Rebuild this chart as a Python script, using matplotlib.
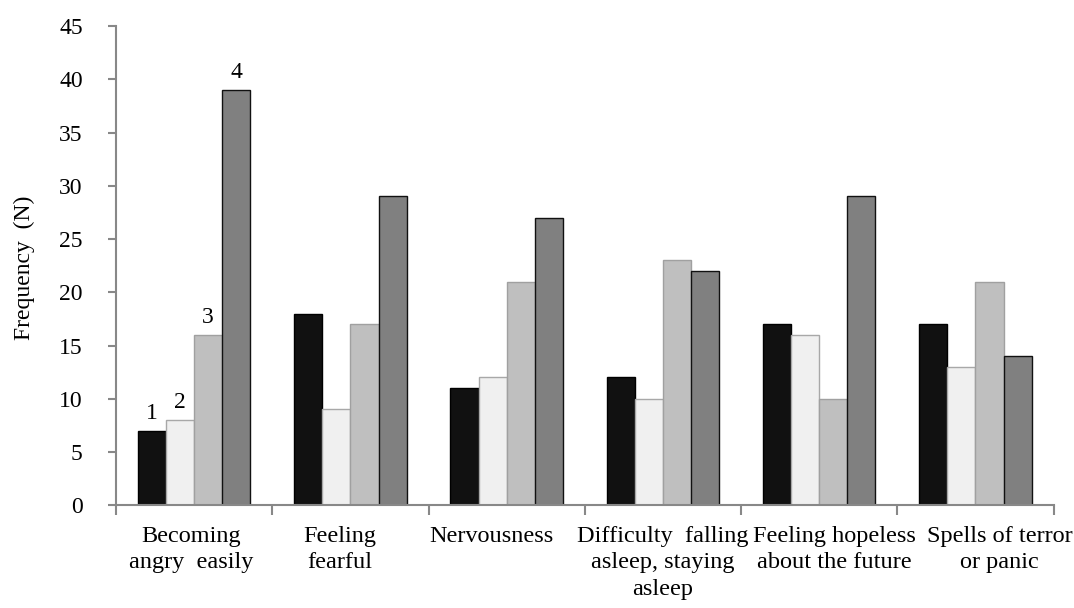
import numpy as np
import matplotlib.pyplot as plt

plt.rcParams['font.family'] = ['Liberation Serif', 'DejaVu Serif']

# Datos
categories = ['Becoming\nangry  easily', 'Feeling\nfearful', 'Nervousness',
              'Difficulty  falling\nasleep, staying\nasleep',
              'Feeling hopeless\nabout the future', 'Spells of terror\nor panic']
level_labels = ['1', '2', '3', '4']
level1 = [7, 18, 11, 12, 17, 17]
level2 = [8, 9, 12, 10, 16, 13]
level3 = [16, 17, 21, 23, 10, 21]
level4 = [39, 29, 27, 22, 29, 14]
yticks = [0, 5, 10, 15, 20, 25, 30, 35, 40, 45]

series = [level1, level2, level3, level4]
fills = ['#111111', '#f0f0f0', '#bfbfbf', '#808080']
edges = ['#000000', '#a8a8a8', '#a0a0a0', '#111111']
# desplazamiento horizontal de cada etiqueta (como en el original)
label_shift = [-0.02, -0.065, -0.095, 0.0, 0.095, 0.155]

fig = plt.figure(figsize=(10.74, 6.08), dpi=100)
ax = fig.add_axes([0.108, 0.169, 0.873, 0.788])

x = np.arange(len(categories))
w = 0.18
for i, (vals, fc, ec) in enumerate(zip(series, fills, edges)):
    bars = ax.bar(x + (i - 1.5) * w, vals, width=w, color=fc, edgecolor=ec, linewidth=1.0)
    # etiqueta del nivel sobre la primera categoría
    b = bars[0]
    ax.annotate(level_labels[i], xy=(b.get_x() + b.get_width() / 2, b.get_height()),
                xytext=(0, 5), textcoords='offset points', ha='center', va='bottom',
                fontsize=17)

ax.set_xlim(-0.5, len(categories) - 0.5)
ax.set_ylim(0, 45)
ax.set_yticks(yticks)
ax.set_xticks(np.arange(-0.5, len(categories)))
ax.set_xticklabels([])
ax.tick_params(axis='x', length=7, width=1.5, color='#888888')
ax.tick_params(axis='y', length=6, width=1.5, color='#888888', pad=18, labelsize=17)

for xi, lab, dx in zip(x, categories, label_shift):
    ax.text(xi + dx, -0.043, lab, transform=ax.get_xaxis_transform(),
            ha='center', va='top', fontsize=17.5, linespacing=1.35,
            multialignment='center')

for s in ['top', 'right']:
    ax.spines[s].set_visible(False)
for s in ['left', 'bottom']:
    ax.spines[s].set_color('#888888')
    ax.spines[s].set_linewidth(1.5)

ax.set_ylabel('Frequency  (N)', fontsize=17)
ax.yaxis.set_label_coords(-0.086, 0.495)

plt.savefig('out.png', dpi=100)
